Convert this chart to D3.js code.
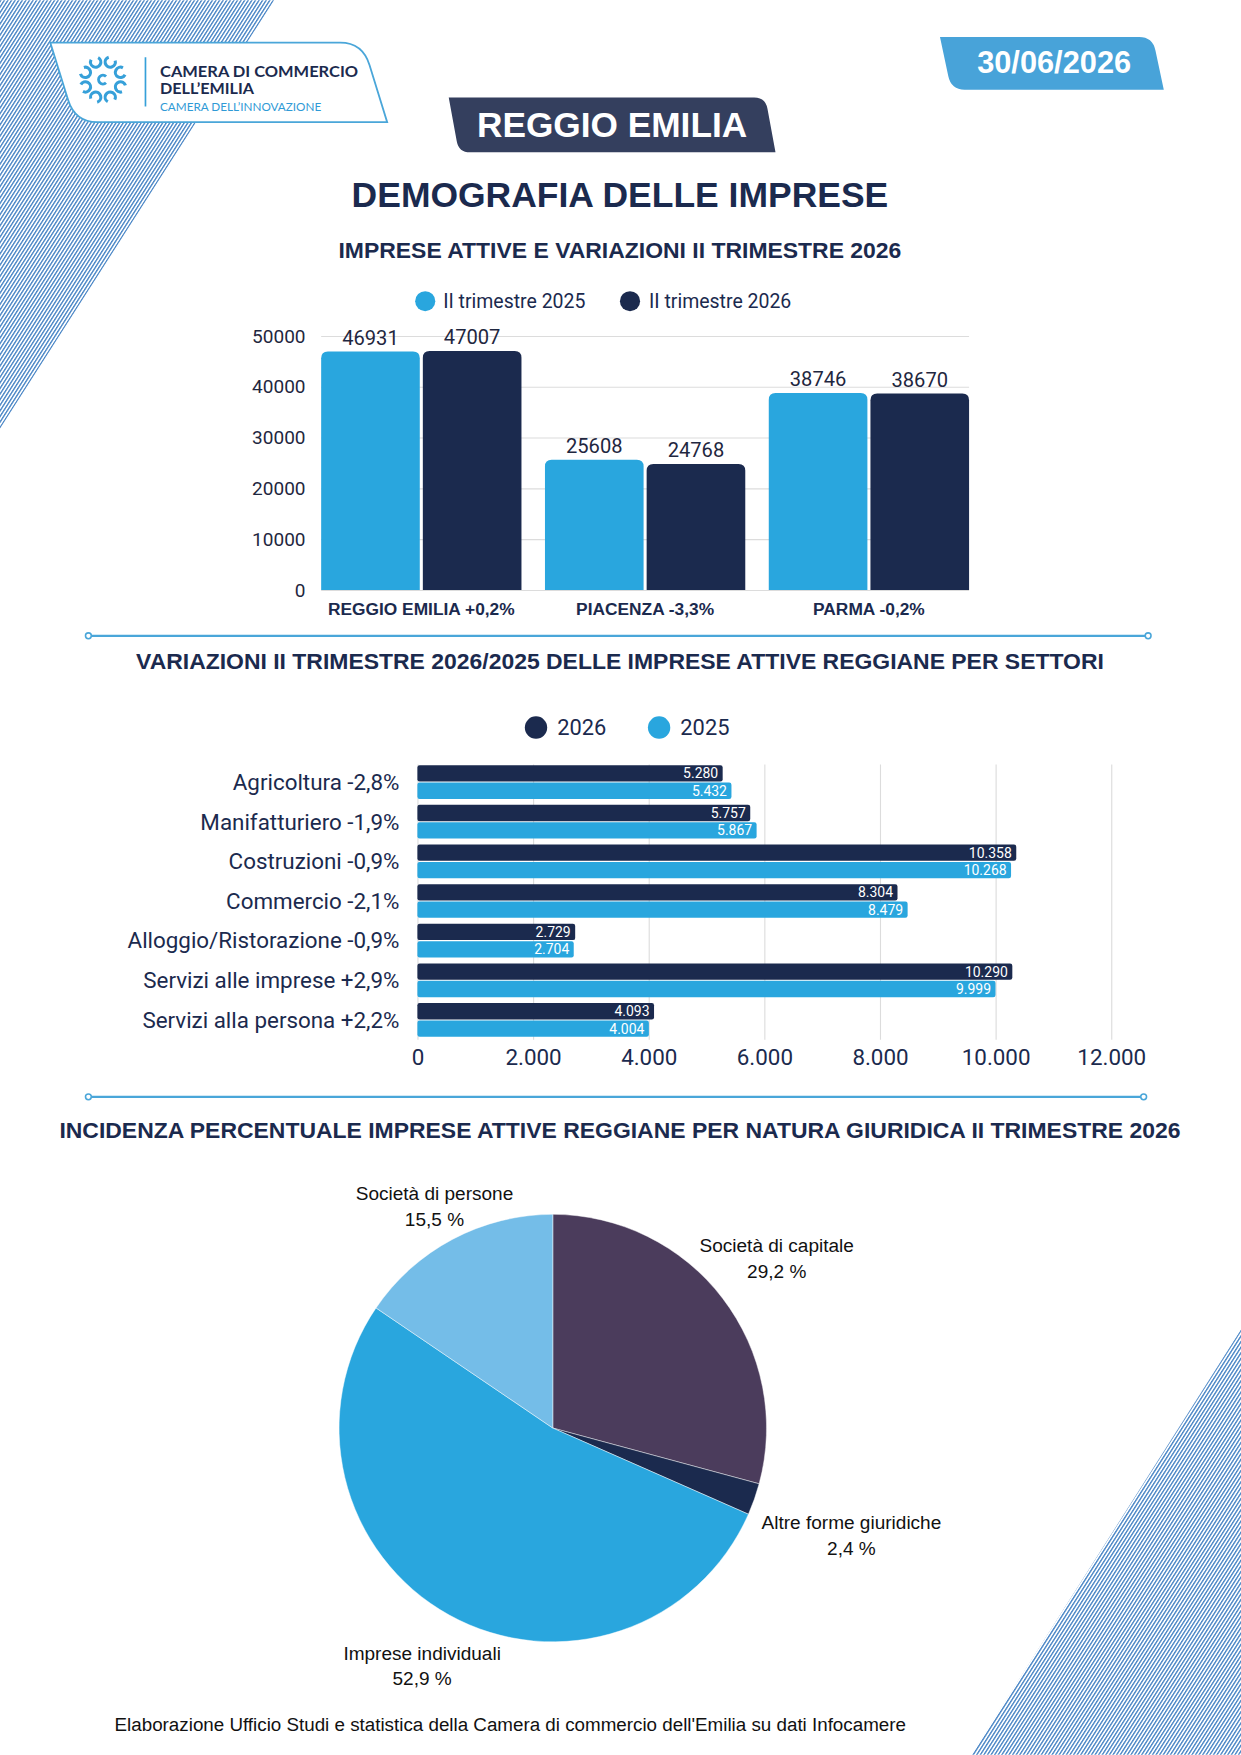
<!DOCTYPE html>
<html>
<head>
<meta charset="utf-8">
<script src="https://cdn.jsdelivr.net/npm/d3@7"></script>
<style>
  html, body { margin: 0; padding: 0; background: #fff; }
  svg { display: block; }
</style>
</head>
<body>
<div id="page"></div>
<script>
// --- data ---
const regions = ['REGGIO EMILIA +0,2%', 'PIACENZA -3,3%', 'PARMA -0,2%']
const periods = ['II trimestre 2025', 'II trimestre 2026']
const imprese2025 = [46931, 25608, 38746]
const imprese2026 = [47007, 24768, 38670]
const yTicks = [0, 10000, 20000, 30000, 40000, 50000]

const settori = ['Agricoltura -2,8%', 'Manifatturiero -1,9%', 'Costruzioni -0,9%', 'Commercio -2,1%',
  'Alloggio/Ristorazione -0,9%', 'Servizi alle imprese +2,9%', 'Servizi alla persona +2,2%']
const anni = ['2026', '2025']
const settori2026 = [5280, 5757, 10358, 8304, 2729, 10290, 4093]
const settori2025 = [5432, 5867, 10268, 8479, 2704, 9999, 4004]
const xTicks = [0, 2000, 4000, 6000, 8000, 10000, 12000]

const nature = ['Società di capitale', 'Altre forme giuridiche', 'Imprese individuali', 'Società di persone']
const quote = [29.2, 2.4, 52.9, 15.5]

// --- page ---
const navy = '#1b2a4e'
const light = '#29a6de'
const lineBlue = '#4aa6d9'
const arial = '"Liberation Sans", Arial, sans-serif'
const it = d3.formatLocale({decimal: ',', thousands: '.', grouping: [3], currency: ['', '€']})

const svg = d3.select('#page').append('svg')
  .attr('width', 1241).attr('height', 1755)
  .attr('viewBox', '0 0 1109 1568')

const defs = svg.append('defs')
defs.append('pattern')
  .attr('id', 'stripes')
  .attr('patternUnits', 'userSpaceOnUse')
  .attr('width', 2.7).attr('height', 10)
  .attr('patternTransform', 'rotate(32.6)')
  .append('rect').attr('width', 1.25).attr('height', 10).attr('fill', '#4a86c6')

svg.append('path').attr('d', 'M0,0 L245,0 L0,383 Z').attr('fill', 'url(#stripes)')
svg.append('path').attr('d', 'M1109,1188 L1109,1568 L868,1568 Z').attr('fill', 'url(#stripes)')

// tab shaped boxes: sharp top-left / bottom-right, rounded top-right / bottom-left
function tab(x, y, w, h, s, r) {
  const k = s / h * r
  return `M${x},${y} L${x + w - s - r},${y} Q${x + w - s},${y} ${x + w - s + k},${y + r} ` +
    `L${x + w},${y + h} L${x + s + r},${y + h} Q${x + s},${y + h} ${x + s - k},${y + h - r} Z`
}

// logo
svg.append('path').attr('d', tab(45, 38, 301, 71, 22, 20))
  .attr('fill', '#fff').attr('stroke', lineBlue).attr('stroke-width', 1.6)
const icon = svg.append('g').attr('transform', 'translate(92,71)')
d3.range(8).forEach(i => {
  const a = i * Math.PI / 4 + Math.PI / 8
  icon.append('path')
    .attr('d', d3.arc()({innerRadius: 3.2, outerRadius: 6, startAngle: 0.9, endAngle: 5.6}))
    .attr('transform', `translate(${17 * Math.cos(a)},${17 * Math.sin(a)}) rotate(${i * 45 + 112})`)
    .attr('fill', '#36a0d9')
})
icon.append('path')
  .attr('d', d3.arc()({innerRadius: 2.6, outerRadius: 5.2, startAngle: 0.8, endAngle: 5.5}))
  .attr('transform', 'rotate(90)').attr('fill', '#36a0d9')
svg.append('line').attr('x1', 130).attr('x2', 130).attr('y1', 51).attr('y2', 95)
  .attr('stroke', '#36a0d9').attr('stroke-width', 1.5)
const logoText = svg.append('g').attr('font-family', 'Lato, "Open Sans", sans-serif')
logoText.append('text').attr('x', 143).attr('y', 69).text('CAMERA DI COMMERCIO')
  .attr('font-size', 14).attr('font-weight', 700).attr('fill', navy)
  .attr('textLength', 177).attr('lengthAdjust', 'spacingAndGlyphs')
logoText.append('text').attr('x', 143).attr('y', 84).text('DELL’EMILIA')
  .attr('font-size', 14).attr('font-weight', 700).attr('fill', navy)
  .attr('textLength', 84).attr('lengthAdjust', 'spacingAndGlyphs')
logoText.append('text').attr('x', 143).attr('y', 99).text('CAMERA DELL’INNOVAZIONE')
  .attr('font-size', 10).attr('fill', '#2f9ad6')
  .attr('textLength', 144).attr('lengthAdjust', 'spacingAndGlyphs')

// date + province badges
svg.append('path').attr('d', tab(840, 33, 200, 47, 10, 12)).attr('fill', '#48a3d9')
svg.append('text').attr('x', 942).attr('y', 65).attr('text-anchor', 'middle')
  .attr('font-family', arial).attr('font-weight', 700)
  .attr('font-size', 27.5).attr('fill', '#fff').text('30/06/2026')
svg.append('path').attr('d', tab(401, 87, 292, 49, 9, 10)).attr('fill', '#343f5e')
svg.append('text').attr('x', 547).attr('y', 122).attr('text-anchor', 'middle')
  .attr('font-family', arial).attr('font-weight', 700)
  .attr('font-size', 31.5).attr('fill', '#fff').text('REGGIO EMILIA')

function title(txt, y, size) {
  svg.append('text').attr('x', 554).attr('y', y).attr('text-anchor', 'middle')
    .attr('font-family', arial).attr('font-weight', 700)
    .attr('font-size', size).attr('fill', navy).text(txt)
}
title('DEMOGRAFIA DELLE IMPRESE', 185, 31.7)
title('IMPRESE ATTIVE E VARIAZIONI II TRIMESTRE 2026', 230, 20.5)
title('VARIAZIONI II TRIMESTRE 2026/2025 DELLE IMPRESE ATTIVE REGGIANE PER SETTORI', 598, 20.5)
title('INCIDENZA PERCENTUALE IMPRESE ATTIVE REGGIANE PER NATURA GIURIDICA II TRIMESTRE 2026', 1017, 20.5)

function separator(y, x1, x2) {
  svg.append('line').attr('x1', x1).attr('x2', x2).attr('y1', y).attr('y2', y)
    .attr('stroke', lineBlue).attr('stroke-width', 2)
  ;[x1, x2].forEach(x => svg.append('circle').attr('cx', x).attr('cy', y).attr('r', 2.6)
    .attr('fill', '#fff').attr('stroke', lineBlue).attr('stroke-width', 1.4))
}
separator(568, 79, 1026)
separator(980, 79, 1022)

// --- chart 1: grouped columns ---
const c1 = svg.append('g').attr('font-family', 'Roboto, sans-serif')
const color1 = d3.scaleOrdinal().domain(periods).range([light, navy])

const leg1 = c1.append('g')
;[[380, 396], [563, 580]].forEach((p, i) => {
  leg1.append('circle').attr('cx', p[0]).attr('cy', 269).attr('r', 9).attr('fill', color1(periods[i]))
  leg1.append('text').attr('x', p[1]).attr('y', 275).attr('font-size', 17.4).attr('fill', navy).text(periods[i])
})

const x1 = d3.scaleBand().domain(regions).range([287, 866]).paddingInner(0.105)
const xs1 = d3.scaleBand().domain(periods).range([0, x1.bandwidth()]).paddingInner(0.03)
const y1 = d3.scaleLinear().domain([0, 50000]).range([527, 300])

const yAxis1 = c1.append('g').attr('transform', 'translate(287,0)')
  .call(d3.axisLeft(y1).tickValues(yTicks).tickSize(-579).tickPadding(14).tickFormat(d3.format('d')))
yAxis1.select('.domain').remove()
yAxis1.selectAll('line').attr('stroke', '#dcdcdc')
yAxis1.selectAll('text').attr('font-size', 17).attr('fill', '#1f2740').attr('font-family', 'Roboto, sans-serif')

function topRound(x, y, w, h, r) {
  r = Math.min(r, h)
  return `M${x},${y + h} L${x},${y + r} Q${x},${y} ${x + r},${y} L${x + w - r},${y} ` +
    `Q${x + w},${y} ${x + w},${y + r} L${x + w},${y + h} Z`
}

const rows1 = regions.map((r, i) => ({region: r, values: [imprese2025[i], imprese2026[i]]}))
const grp1 = c1.selectAll('.grp').data(rows1).join('g')
  .attr('transform', d => `translate(${x1(d.region)},0)`)
grp1.selectAll('path').data(d => d.values.map((v, j) => ({p: periods[j], v})))
  .join('path')
  .attr('d', d => topRound(xs1(d.p), y1(d.v), xs1.bandwidth(), y1(0) - y1(d.v), 6))
  .attr('fill', d => color1(d.p))
grp1.selectAll('text.val').data(d => d.values.map((v, j) => ({p: periods[j], v})))
  .join('text').attr('class', 'val')
  .attr('x', d => xs1(d.p) + xs1.bandwidth() / 2).attr('y', d => y1(d.v) - 6)
  .attr('text-anchor', 'middle').attr('font-size', 18).attr('fill', '#1f2740')
  .text(d => d.v)
c1.selectAll('.cat').data(regions).join('text')
  .attr('x', d => x1(d) + x1.bandwidth() / 2).attr('y', 549)
  .attr('text-anchor', 'middle').attr('font-family', arial)
  .attr('font-weight', 700).attr('font-size', 15.5).attr('fill', navy).text(d => d)

// --- chart 2: horizontal bars ---
const c2 = svg.append('g').attr('font-family', 'Roboto, sans-serif')
const color2 = d3.scaleOrdinal().domain(anni).range([navy, light])

;[[479, 498], [589, 608]].forEach((p, i) => {
  c2.append('circle').attr('cx', p[0]).attr('cy', 650).attr('r', 10).attr('fill', color2(anni[i]))
  c2.append('text').attr('x', p[1]).attr('y', 657).attr('font-size', 19.5).attr('fill', navy).text(anni[i])
})

const x2 = d3.scaleLinear().domain([0, 12000]).range([373, 993])
const y2 = d3.scaleBand().domain(settori).range([681, 929]).paddingInner(0.15).paddingOuter(0.075)
const ys2 = d3.scaleBand().domain(anni).range([0, y2.bandwidth()]).paddingInner(0.06)

const xAxis2 = c2.append('g').attr('transform', 'translate(0,929)')
  .call(d3.axisBottom(x2).tickValues(xTicks).tickSize(-246).tickPadding(8).tickFormat(it.format(',d')))
xAxis2.select('.domain').remove()
xAxis2.selectAll('line').attr('stroke', '#dcdcdc')
xAxis2.selectAll('text').attr('font-size', 20).attr('fill', navy).attr('font-family', 'Roboto, sans-serif')

c2.selectAll('.lab').data(settori).join('text')
  .attr('x', 357).attr('y', d => y2(d) + y2.bandwidth() / 2).attr('dy', '0.35em')
  .attr('text-anchor', 'end').attr('font-size', 20).attr('fill', navy).text(d => d)

const rows2 = settori.map((s, i) => ({s, values: [settori2026[i], settori2025[i]]}))
const grp2 = c2.selectAll('.row').data(rows2).join('g')
  .attr('transform', d => `translate(0,${y2(d.s)})`)
grp2.selectAll('rect').data(d => d.values.map((v, j) => ({a: anni[j], v})))
  .join('rect')
  .attr('x', x2(0)).attr('y', d => ys2(d.a))
  .attr('width', d => x2(d.v) - x2(0)).attr('height', ys2.bandwidth())
  .attr('rx', 2).attr('fill', d => color2(d.a))
grp2.selectAll('text').data(d => d.values.map((v, j) => ({a: anni[j], v})))
  .join('text')
  .attr('x', d => x2(d.v) - 4).attr('y', d => ys2(d.a) + ys2.bandwidth() / 2).attr('dy', '0.36em')
  .attr('text-anchor', 'end').attr('font-size', 12.5).attr('fill', '#fff')
  .text(d => it.format(',d')(d.v))

// --- chart 3: pie ---
const c3 = svg.append('g').attr('transform', 'translate(494,1276)')
const color3 = d3.scaleOrdinal().domain(nature).range(['#4b3c5c', '#1b2a4e', '#29a6de', '#74bde8'])
const pie = d3.pie().sort(null).value(d => d.q)
const arcs = pie(nature.map((n, i) => ({n, q: quote[i]})))
c3.selectAll('path').data(arcs).join('path')
  .attr('d', d3.arc().innerRadius(0).outerRadius(191))
  .attr('fill', d => color3(d.data.n))
  .attr('stroke', '#fff').attr('stroke-width', 0.4)

const labelR = {'Società di capitale': 252, 'Altre forme giuridiche': 283, 'Imprese individuali': 241, 'Società di persone': 226}
const lab3 = c3.selectAll('.pl').data(arcs).join('g')
  .attr('transform', d => {
    const r = labelR[d.data.n]
    const c = d3.arc().innerRadius(r).outerRadius(r).centroid(d)
    return `translate(${c[0]},${c[1]})`
  })
  .attr('font-family', arial).attr('font-size', 17)
  .attr('fill', '#111').attr('text-anchor', 'middle')
lab3.append('text').attr('y', -4).text(d => d.data.n)
lab3.append('text').attr('y', 19).text(d => it.format('.1f')(d.data.q) + ' %')

svg.append('text').attr('x', 456).attr('y', 1547).attr('text-anchor', 'middle')
  .attr('font-family', arial).attr('font-size', 16.8).attr('fill', '#111')
  .text("Elaborazione Ufficio Studi e statistica della Camera di commercio dell'Emilia su dati Infocamere")
</script>
</body>
</html>
